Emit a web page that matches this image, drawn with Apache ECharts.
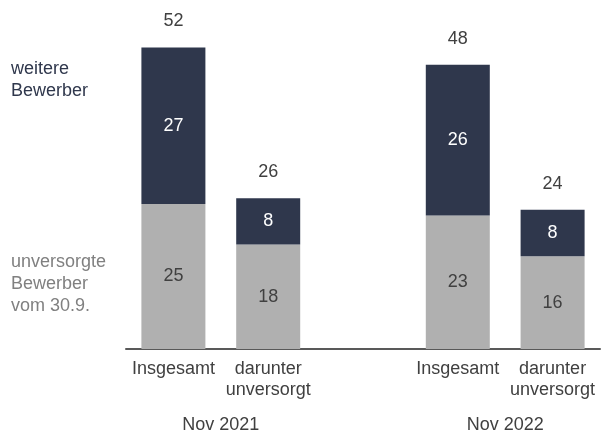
<!DOCTYPE html>
<html>
<head>
<meta charset="utf-8">
<script src="https://cdn.jsdelivr.net/npm/echarts@6/dist/echarts.min.js"></script>
<style>
  html, body { margin: 0; padding: 0; background: #fff; }
  #chart { width: 603px; height: 436px; }
</style>
</head>
<body>
<div id="chart"></div>
<script>
// categories (middle slot is an empty spacer between the two years)
var categories = ['Insgesamt', 'darunter\nunversorgt', '', 'Insgesamt', 'darunter\nunversorgt'];
var groupLabels = { 1: 'Nov 2021', 4: 'Nov 2022' };

var unversorgt = [25, 18, '-', 23, 16];
var weitere = [27, 8, '-', 26, 8];
var totals = [52, 26, '-', 48, 24];

var FONT = 'Liberation Sans, Arial, sans-serif';
var NAVY = '#2f374c';
var GRAY = '#b0b0b0';

var chart = echarts.init(document.getElementById('chart'));

var option = {
    animation: false,
    grid: {
        left: 126,
        width: 479,
        top: 1,
        height: 348
    },
    xAxis: [{
        type: 'category',
        data: categories,
        axisLine: { show: true, lineStyle: { color: '#595959', width: 2 } },
        axisTick: { show: false },
        axisLabel: {
            interval: 0,
            margin: 10,
            color: '#404040',
            fontFamily: FONT,
            fontSize: 18,
            lineHeight: 21
        }
    }, {
        // helper axis: boundaries between categories carry the year labels
        type: 'value',
        position: 'bottom',
        min: 0,
        max: 5,
        interval: 1,
        axisLine: { show: false },
        axisTick: { show: false },
        splitLine: { show: false },
        axisLabel: {
            margin: 66,
            color: '#404040',
            fontFamily: FONT,
            fontSize: 18,
            lineHeight: 21,
            formatter: function (v) {
                return groupLabels[v] || '';
            }
        }
    }],
    yAxis: {
        type: 'value',
        min: 0,
        max: 60,
        show: false
    },
    series: [{
        name: 'unversorgte Bewerber vom 30.9.',
        type: 'bar',
        stack: 'total',
        barWidth: 64,
        data: unversorgt,
        itemStyle: { color: GRAY },
        label: {
            show: true,
            position: 'inside',
            color: '#404040',
            fontFamily: FONT,
            fontSize: 18
        }
    }, {
        name: 'weitere Bewerber',
        type: 'bar',
        stack: 'total',
        barWidth: 64,
        data: weitere,
        itemStyle: { color: NAVY },
        label: {
            show: true,
            position: 'inside',
            color: '#ffffff',
            fontFamily: FONT,
            fontSize: 18
        }
    }, {
        // totals written above the stacks
        name: 'Summe',
        type: 'bar',
        stack: 'total',
        barWidth: 64,
        data: totals.map(function (t) { return t === '-' ? '-' : 0; }),
        itemStyle: { color: 'transparent' },
        label: {
            show: true,
            position: 'top',
            distance: 17,
            color: '#404040',
            fontFamily: FONT,
            fontSize: 18,
            formatter: function (p) {
                return totals[p.dataIndex];
            }
        }
    }],
    graphic: [{
        type: 'text',
        left: 11,
        top: 58,
        style: {
            text: 'weitere\nBewerber',
            fill: NAVY,
            font: '18px ' + FONT,
            lineHeight: 22
        }
    }, {
        type: 'text',
        left: 11,
        top: 251,
        style: {
            text: 'unversorgte\nBewerber\nvom 30.9.',
            fill: '#808080',
            font: '18px ' + FONT,
            lineHeight: 22
        }
    }]
};

chart.setOption(option);
</script>
</body>
</html>
